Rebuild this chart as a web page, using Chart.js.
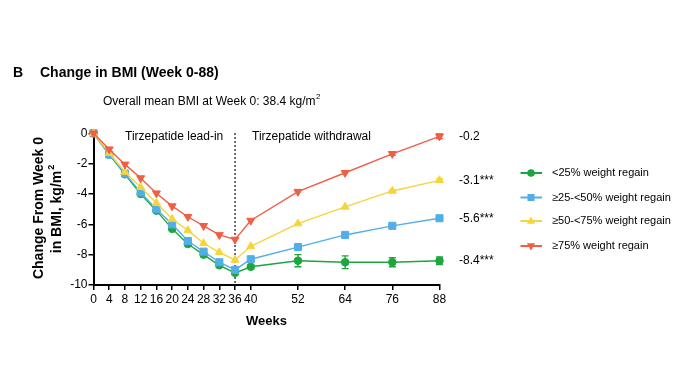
<!DOCTYPE html>
<html>
<head>
<meta charset="utf-8">
<script src="https://cdn.jsdelivr.net/npm/chart.js@4/dist/chart.umd.min.js"></script>
<style>
  body { margin: 0; background: #fff; }
  #wrap { width: 689px; height: 388px; }
</style>
</head>
<body>
<div id="wrap"><canvas id="bmiChart" width="689" height="388"></canvas></div>
<script>
(function() {
  // weeks on the x axis
  const weeks = [0, 4, 8, 12, 16, 20, 24, 28, 32, 36, 40, 52, 64, 76, 88];
  const xTicks = [0, 4, 8, 12, 16, 20, 24, 28, 32, 36, 40, 52, 64, 76, 88];

  // change from week 0 in BMI, kg/m2
  const lt25 = [0, -1.4, -2.7, -4.0, -5.1, -6.3, -7.3, -8.0, -8.7, -9.2, -8.8, -8.4, -8.5, -8.5, -8.4];
  const r25to50 = [0, -1.4, -2.65, -3.9, -5.0, -6.0, -7.1, -7.8, -8.5, -9.0, -8.3, -7.5, -6.7, -6.1, -5.6];
  const r50to75 = [0, -1.3, -2.55, -3.55, -4.6, -5.65, -6.4, -7.25, -7.85, -8.35, -7.45, -5.95, -4.85, -3.8, -3.1];
  const ge75 = [0, -1.05, -2.05, -2.95, -3.95, -4.8, -5.5, -6.1, -6.7, -7.0, -5.75, -3.85, -2.6, -1.35, -0.2];

  // error bar half-lengths (only the visible ones)
  const lt25Err = [0, 0, 0, 0, 0, 0, 0, 0, 0, 0.1, 0.1, 0.4, 0.42, 0.3, 0.25];
  const r25to50Err = [0, 0, 0, 0, 0, 0, 0, 0, 0, 0, 0, 0, 0, 0.08, 0.1];
  const r50to75Err = [0, 0, 0, 0, 0, 0, 0, 0, 0, 0, 0, 0, 0, 0.08, 0.1];
  const ge75Err = [0, 0, 0, 0, 0, 0, 0, 0, 0, 0, 0, 0, 0, 0.1, 0.15];

  const seriesLabels = ['<25% weight regain', '\u226525-<50% weight regain', '\u226550-<75% weight regain', '\u226575% weight regain'];
  const endLabels = ['-8.4***', '-5.6***', '-3.1***', '-0.2'];
  const colors = ['#1ea53f', '#52aee6', '#f6d43c', '#ef5f45'];
  const styles = ['circle', 'rect', 'triangle', 'triangle'];
  const rotations = [0, 0, 0, 180];
  const radii = [3.8, 5, 4.6, 4.6];

  const allSeries = [lt25, r25to50, r50to75, ge75];
  const allErr = [lt25Err, r25to50Err, r50to75Err, ge75Err];
  const FONT = 'Arial, "Liberation Sans", sans-serif';

  const datasets = allSeries.map((vals, i) => ({
    label: seriesLabels[i],
    data: weeks.map((w, j) => ({ x: w, y: vals[j] })),
    err: allErr[i],
    borderColor: colors[i],
    backgroundColor: colors[i],
    borderWidth: 1.4,
    pointStyle: styles[i],
    pointRotation: rotations[i],
    pointRadius: radii[i],
    pointBorderWidth: 1,
    tension: 0,
    clip: false,
    order: 4 - i
  }));

  function marker(ctx, style, rot, r, x, y, color) {
    ctx.save();
    ctx.fillStyle = color;
    ctx.translate(x, y);
    ctx.rotate(rot * Math.PI / 180);
    ctx.beginPath();
    if (style === 'circle') {
      ctx.arc(0, 0, r, 0, Math.PI * 2);
    } else if (style === 'rect') {
      const s = r * Math.SQRT1_2;
      ctx.rect(-s, -s, 2 * s, 2 * s);
    } else {
      ctx.moveTo(0, -r);
      ctx.lineTo(r * 0.9, r * 0.6);
      ctx.lineTo(-r * 0.9, r * 0.6);
      ctx.closePath();
    }
    ctx.fill();
    ctx.restore();
  }

  const extras = {
    id: 'extras',
    beforeDatasetsDraw(chart) {
      const ctx = chart.ctx;
      const xs = chart.scales.x, ys = chart.scales.y;
      // dotted line at week 36
      ctx.save();
      ctx.strokeStyle = '#000';
      ctx.lineWidth = 1.5;
      ctx.setLineDash([1.5, 2.5]);
      ctx.beginPath();
      ctx.moveTo(xs.getPixelForValue(36), ys.getPixelForValue(0));
      ctx.lineTo(xs.getPixelForValue(36), ys.getPixelForValue(-10));
      ctx.stroke();
      ctx.restore();

      // error bars
      chart.data.datasets.forEach(ds => {
        ctx.save();
        ctx.strokeStyle = ds.borderColor;
        ctx.lineWidth = 1.4;
        ds.data.forEach((p, j) => {
          const e = ds.err[j];
          if (!e) return;
          const px = xs.getPixelForValue(p.x);
          const y1 = ys.getPixelForValue(p.y + e);
          const y2 = ys.getPixelForValue(p.y - e);
          ctx.beginPath();
          ctx.moveTo(px, y1); ctx.lineTo(px, y2);
          ctx.moveTo(px - 3.5, y1); ctx.lineTo(px + 3.5, y1);
          ctx.moveTo(px - 3.5, y2); ctx.lineTo(px + 3.5, y2);
          ctx.stroke();
        });
        ctx.restore();
      });
    },
    afterDraw(chart) {
      const ctx = chart.ctx;
      const xs = chart.scales.x, ys = chart.scales.y;
      ctx.save();
      ctx.fillStyle = '#000';
      ctx.textBaseline = 'middle';

      // panel title
      ctx.font = 'bold 14px ' + FONT;
      ctx.textAlign = 'left';
      ctx.fillText('B', 13, 73);
      ctx.fillText('Change in BMI (Week 0-88)', 40, 73);

      // subtitle with superscript
      ctx.font = '12px ' + FONT;
      const sub = 'Overall mean BMI at Week 0: 38.4 kg/m';
      ctx.fillText(sub, 103, 102);
      const w = ctx.measureText(sub).width;
      ctx.font = '8px ' + FONT;
      ctx.fillText('2', 103 + w + 0.5, 97);

      // phase labels
      ctx.font = '12px ' + FONT;
      ctx.fillText('Tirzepatide lead-in', 125, 137);
      ctx.fillText('Tirzepatide withdrawal', 252, 137);

      // end-of-line labels
      allSeries.forEach((vals, i) => {
        ctx.fillText(endLabels[i], 459, ys.getPixelForValue(vals[vals.length - 1]));
      });

      // x title
      ctx.font = 'bold 13px ' + FONT;
      ctx.textAlign = 'center';
      ctx.fillText('Weeks', (xs.left + xs.right) / 2, 321);

      // y title (rotated, two lines)
      ctx.save();
      ctx.translate(39, 208);
      ctx.rotate(-Math.PI / 2);
      ctx.font = 'bold 14px ' + FONT;
      ctx.fillText('Change From Week 0', 0, 0);
      const l2 = 'in BMI, kg/m';
      const l2w = ctx.measureText(l2).width;
      ctx.textAlign = 'left';
      ctx.fillText(l2, -l2w / 2 - 4, 18);
      ctx.font = 'bold 9px ' + FONT;
      ctx.fillText('2', l2w / 2 - 3, 13);
      ctx.restore();

      // legend
      const legY = [173, 197.5, 221, 246];
      ctx.font = '11px ' + FONT;
      ctx.textAlign = 'left';
      seriesLabels.forEach((lab, i) => {
        ctx.strokeStyle = colors[i];
        ctx.lineWidth = 2;
        ctx.beginPath();
        ctx.moveTo(520.5, legY[i]);
        ctx.lineTo(542, legY[i]);
        ctx.stroke();
        marker(ctx, styles[i], rotations[i], radii[i], 531, legY[i], colors[i]);
        ctx.fillStyle = '#000';
        ctx.fillText(lab, 552, legY[i]);
      });
      ctx.restore();
    }
  };

  new Chart(document.getElementById('bmiChart').getContext('2d'), {
    type: 'line',
    data: { datasets },
    plugins: [extras],
    options: {
      responsive: false,
      animation: false,
      devicePixelRatio: 1,
      layout: { padding: { left: 0, right: 249.5, top: 133.3, bottom: 0 } },
      plugins: { legend: { display: false }, tooltip: { enabled: false } },
      scales: {
        x: {
          type: 'linear',
          min: 0,
          max: 88,
          afterBuildTicks(scale) { scale.ticks = xTicks.map(v => ({ value: v })); },
          afterFit(scale) { scale.height = 388 - 285; },
          border: { display: true, color: '#000', width: 2 },
          grid: { drawOnChartArea: false, color: '#000', lineWidth: 1.5, tickLength: 5 },
          ticks: { autoSkip: false, maxRotation: 0, padding: 2, color: '#000', font: { family: FONT, size: 12 } }
        },
        y: {
          min: -10,
          max: 0,
          afterFit(scale) { scale.width = 93.5; },
          border: { display: true, color: '#000', width: 2 },
          grid: { drawOnChartArea: false, color: '#000', lineWidth: 1.5, tickLength: 5 },
          ticks: { stepSize: 2, padding: 1, color: '#000', font: { family: FONT, size: 12 } }
        }
      }
    }
  });
})();
</script>
</body>
</html>
